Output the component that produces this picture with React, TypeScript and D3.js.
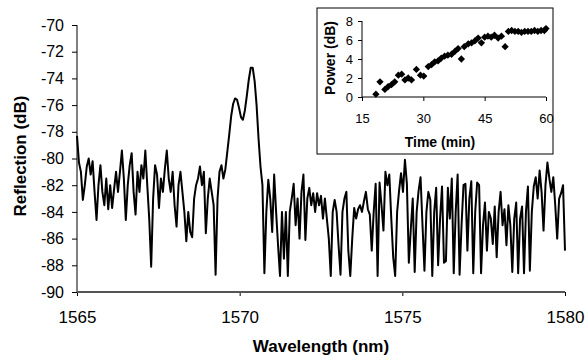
import React, { useEffect, useRef } from "react";
import * as d3 from "d3";

// main spectrum: reflection (dB) sampled every 0.06 nm from 1565 nm
const wlStart = 1565;
const wlStep = 0.06;
const reflection: number[] = [
  -78.3, -80.3, -81.0, -83.1, -82.0, -80.6, -80.0, -81.2, -80.2, -82.5,
  -84.6, -82.0, -80.5, -82.5, -83.5, -81.5, -83.8, -82.0, -83.7, -82.3,
  -81.0, -82.5, -81.0, -79.4, -81.5, -84.6, -82.0, -80.5, -79.6, -82.5,
  -84.2, -81.0, -82.5, -80.5, -81.5, -79.4, -82.0, -84.5, -88.1, -83.0,
  -80.5, -81.2, -83.7, -81.5, -82.5, -80.8, -79.4, -81.5, -82.5, -81.0,
  -83.5, -85.1, -82.0, -81.0, -82.5, -84.0, -86.2, -84.0, -85.5, -85.9,
  -83.0, -82.0, -81.5, -80.6, -82.0, -81.0, -85.6, -83.0, -81.5, -82.5,
  -83.5, -88.7, -83.0, -81.0, -80.5, -81.5, -80.8, -79.5, -78.2, -76.8,
  -75.9, -75.5, -75.6, -76.2, -76.9, -77.1, -76.4, -75.3, -74.1, -73.2,
  -73.2, -74.2, -76.0, -78.5, -80.6, -82.0, -88.6, -84.0, -81.6, -83.0,
  -85.5, -81.2, -84.0, -86.5, -88.8, -84.0, -87.5, -84.0, -88.8, -84.0,
  -83.0, -81.9, -85.0, -83.0, -86.0, -82.5, -81.2, -86.1, -83.0, -82.2,
  -83.5, -82.6, -84.0, -82.6, -83.5, -82.8, -84.5, -83.0, -84.5, -86.0,
  -88.8, -84.0, -83.1, -84.0, -86.5, -88.7, -84.0, -83.0, -82.5, -86.9,
  -88.8, -86.0, -83.7, -84.5, -83.8, -83.5, -84.0, -83.2, -82.5, -83.8,
  -84.2, -86.9, -84.0, -81.9, -88.8, -81.8, -83.5, -85.4, -81.0, -82.0,
  -81.2, -84.5, -87.4, -88.8, -84.0, -82.4, -81.1, -82.5, -80.1, -81.9,
  -87.8, -85.3, -83.0, -88.5, -84.0, -82.4, -81.4, -85.0, -88.4, -84.0,
  -82.5, -83.1, -88.8, -84.0, -82.2, -88.0, -84.5, -82.1, -87.8, -87.7,
  -82.2, -84.5, -81.5, -88.6, -84.0, -81.2, -88.7, -85.0, -82.0, -81.9,
  -86.9, -83.0, -81.7, -88.6, -84.0, -81.8, -82.0, -88.6, -85.0, -83.3,
  -86.9, -84.0, -84.5, -86.4, -83.6, -87.4, -84.0, -82.5, -85.0, -83.8,
  -86.5, -83.5, -85.0, -88.5, -84.5, -83.3, -88.6, -84.5, -83.6, -88.6,
  -84.0, -82.1, -88.4, -84.0, -82.1, -81.4, -83.0, -80.9, -82.5, -85.4,
  -82.0, -80.3, -81.5, -82.5, -81.4, -83.5, -86.0, -83.0, -82.6, -82.0,
  -86.9,
];
const wlTicks = [1565, 1570, 1575, 1580];
const reflTicks = [-90, -88, -86, -84, -82, -80, -78, -76, -74, -72, -70];

// inset: output power vs time
const timeMin = [
  18.4, 19.4, 20.6, 21.4, 22.2, 23.0, 23.9, 24.7, 25.5, 26.3, 27.1, 28.3,
  29.3, 30.1, 31.2, 32.0, 32.8, 33.6, 34.4, 35.2, 36.0, 36.9, 37.7, 38.5,
  39.3, 40.0, 41.0, 41.8, 42.6, 43.4, 44.2, 45.0, 45.8, 46.6, 47.4, 48.3,
  49.1, 50.0, 50.8, 51.6, 52.4, 53.2, 54.0, 54.8, 55.6, 56.4, 57.2, 58.0,
  58.8, 59.6, 60.0,
];
const powerDb = [
  0.3, 1.6, 0.8, 1.1, 1.3, 1.6, 2.3, 2.4, 1.8, 2.0, 1.8, 2.9, 2.3, 2.2, 3.2,
  3.4, 3.7, 3.8, 4.1, 4.3, 4.4, 4.5, 4.8, 5.1, 4.0, 5.3, 5.6, 5.7, 5.9, 6.2,
  5.7, 6.3, 6.4, 6.3, 6.5, 6.2, 6.4, 5.3, 6.9, 7.0, 6.9, 6.9, 6.8, 6.9, 6.9,
  6.9, 7.0, 6.9, 7.0, 7.0, 7.2,
];
const timeTicks = [15, 30, 45, 60];
const powerTicks = [0, 2, 4, 6, 8];

const FONT = "'Liberation Sans', Arial, sans-serif";

const App: React.FC = () => {
  const svgRef = useRef<SVGSVGElement | null>(null);

  useEffect(() => {
    const svg = d3.select(svgRef.current);
    svg.selectAll("*").remove();

    const x = d3.scaleLinear().domain([1565, 1580]).range([77, 565]);
    const y = d3.scaleLinear().domain([-90, -70]).range([292, 25]);

    // y axis
    const yAxis = svg
      .append("g")
      .attr("transform", "translate(77,0)")
      .call(
        d3
          .axisLeft(y)
          .tickValues(reflTicks)
          .tickSize(5)
          .tickPadding(8)
          .tickFormat((d) => String(d))
      );
    yAxis.select(".domain").remove();
    yAxis.selectAll("line").attr("stroke", "#000");
    yAxis
      .selectAll("text")
      .attr("font-family", FONT)
      .attr("font-size", 16)
      .attr("fill", "#000");
    svg
      .append("line")
      .attr("x1", 77)
      .attr("x2", 77)
      .attr("y1", y(-70))
      .attr("y2", y(-90))
      .attr("stroke", "#000");

    // x axis
    const xAxis = svg
      .append("g")
      .attr("transform", "translate(0,292)")
      .call(
        d3
          .axisBottom(x)
          .tickValues(wlTicks)
          .tickSize(4)
          .tickPadding(15)
          .tickFormat((d) => String(d))
      );
    xAxis.select(".domain").remove();
    xAxis.selectAll("line").attr("stroke", "#000");
    xAxis
      .selectAll("text")
      .attr("font-family", FONT)
      .attr("font-size", 17)
      .attr("fill", "#000");
    svg
      .append("line")
      .attr("x1", x(1565))
      .attr("x2", x(1580))
      .attr("y1", 292)
      .attr("y2", 292)
      .attr("stroke", "#555")
      .attr("stroke-width", 2);

    // spectrum trace
    const line = d3
      .line<number>()
      .x((_, i) => x(wlStart + i * wlStep))
      .y((d) => y(d));
    svg
      .append("path")
      .datum(reflection)
      .attr("d", line)
      .attr("fill", "none")
      .attr("stroke", "#000")
      .attr("stroke-width", 2)
      .attr("stroke-linejoin", "round");

    svg
      .append("text")
      .attr("x", 321)
      .attr("y", 352)
      .attr("text-anchor", "middle")
      .attr("font-family", FONT)
      .attr("font-weight", "bold")
      .attr("font-size", 17)
      .text("Wavelength (nm)");

    svg
      .append("text")
      .attr("transform", "translate(26,156) rotate(-90)")
      .attr("text-anchor", "middle")
      .attr("font-family", FONT)
      .attr("font-weight", "bold")
      .attr("font-size", 17)
      .text("Reflection (dB)");

    // inset
    const inset = svg.append("g");
    inset
      .append("rect")
      .attr("x", 317)
      .attr("y", 8)
      .attr("width", 236)
      .attr("height", 146)
      .attr("fill", "#fff")
      .attr("stroke", "#000");

    const ix = d3.scaleLinear().domain([15, 60]).range([362, 546]);
    const iy = d3.scaleLinear().domain([0, 8]).range([97, 21]);

    const iyAxis = inset
      .append("g")
      .attr("transform", "translate(362,0)")
      .call(
        d3
          .axisLeft(iy)
          .tickValues(powerTicks)
          .tickSize(4)
          .tickPadding(5)
          .tickFormat((d) => String(d))
      );
    iyAxis.select(".domain").remove();
    iyAxis.selectAll("line").attr("stroke", "#000");
    iyAxis
      .selectAll("text")
      .attr("font-family", FONT)
      .attr("font-size", 13)
      .attr("fill", "#000");
    inset
      .append("line")
      .attr("x1", 362)
      .attr("x2", 362)
      .attr("y1", iy(8))
      .attr("y2", iy(0))
      .attr("stroke", "#000");

    const ixAxis = inset
      .append("g")
      .attr("transform", "translate(0,97)")
      .call(
        d3
          .axisBottom(ix)
          .tickValues(timeTicks)
          .tickSize(4)
          .tickPadding(13)
          .tickFormat((d) => String(d))
      );
    ixAxis.select(".domain").remove();
    ixAxis.selectAll("line").attr("stroke", "#000");
    ixAxis
      .selectAll("text")
      .attr("font-family", FONT)
      .attr("font-size", 13)
      .attr("fill", "#000");
    inset
      .append("line")
      .attr("x1", ix(15))
      .attr("x2", ix(60))
      .attr("y1", 97)
      .attr("y2", 97)
      .attr("stroke", "#000");

    const diamond = d3.symbol().type(d3.symbolDiamond2 ?? d3.symbolDiamond).size(34);
    inset
      .selectAll("path.pt")
      .data(timeMin)
      .enter()
      .append("path")
      .attr("class", "pt")
      .attr("d", diamond)
      .attr("transform", (d, i) => `translate(${ix(d)},${iy(powerDb[i])})`)
      .attr("fill", "#000");

    inset
      .append("text")
      .attr("x", 440)
      .attr("y", 147)
      .attr("text-anchor", "middle")
      .attr("font-family", FONT)
      .attr("font-weight", "bold")
      .attr("font-size", 14)
      .text("Time (min)");

    inset
      .append("text")
      .attr("transform", "translate(335,58) rotate(-90)")
      .attr("text-anchor", "middle")
      .attr("font-family", FONT)
      .attr("font-weight", "bold")
      .attr("font-size", 14)
      .text("Power (dB)");
  }, []);

  return (
    <svg
      ref={svgRef}
      width={587}
      height={360}
      style={{ position: "absolute", left: 0, top: 0, background: "#fff" }}
    ></svg>
  );
};

export default App;
